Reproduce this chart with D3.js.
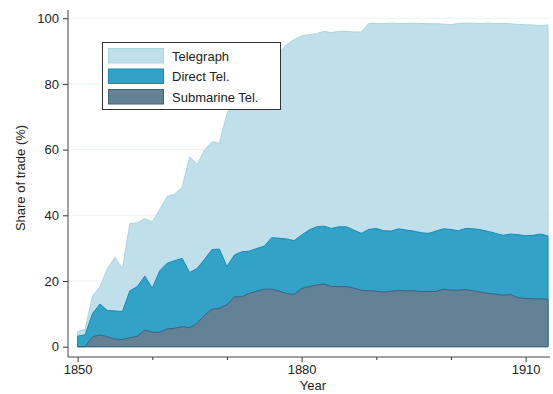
<!DOCTYPE html>
<html>
<head>
<meta charset="utf-8">
<script src="https://cdn.jsdelivr.net/npm/d3@7"></script>
<style>
  body { margin: 0; background: #fff; }
  svg { font-family: "Liberation Sans", Arial, sans-serif; }
</style>
</head>
<body>
<div id="chart"></div>
<script>
// years 1850..1913
var years = d3.range(1850, 1914);

// total telegraph share (%)
var telegraph = [4.6, 5.3, 15.4, 18.3, 23.8, 27.2, 23.8, 37.5, 37.7, 39.0,
  38.0, 41.8, 45.7, 46.5, 48.5, 57.8, 55.5, 59.9, 62.4, 61.9,
  71.0, 75.0, 79.0, 82.0, 85.0, 87.0, 88.0, 89.5, 92.0, 93.5,
  94.6, 95.0, 95.3, 96.0, 95.6, 96.0, 96.0, 95.8, 95.8, 98.4,
  98.4, 98.4, 98.5, 98.4, 98.4, 98.5, 98.4, 98.3, 98.3, 98.2,
  98.0, 98.4, 98.5, 98.5, 98.4, 98.5, 98.4, 98.4, 98.3, 98.1,
  98.0, 97.9, 97.8, 97.9];

// direct telegraph share (%)
var direct = [3.2, 3.6, 10.1, 13.0, 11.0, 10.9, 10.7, 17.0, 18.3, 21.5,
  17.8, 23.1, 25.4, 26.2, 26.9, 22.6, 23.8, 26.6, 29.6, 29.7,
  24.4, 27.9, 28.9, 29.1, 29.9, 30.6, 33.2, 33.0, 32.8, 32.3,
  34.0, 35.5, 36.5, 36.7, 36.0, 36.5, 36.5, 35.5, 34.5, 35.7,
  36.0, 35.3, 35.2, 35.9, 35.5, 35.2, 34.7, 34.5, 35.2, 35.9,
  35.7, 35.3, 36.0, 35.9, 35.6, 35.1, 34.5, 33.9, 34.3, 34.1,
  33.8, 33.9, 34.3, 33.7];

// submarine telegraph share (%)
var submarine = [0, 0, 3.0, 3.6, 3.0, 2.3, 2.2, 2.7, 3.2, 5.1,
  4.4, 4.4, 5.4, 5.6, 6.1, 5.8, 7.1, 9.6, 11.4, 11.7,
  12.8, 15.2, 15.2, 16.2, 16.9, 17.5, 17.5, 16.9, 16.2, 15.9,
  17.7, 18.3, 18.8, 19.1, 18.3, 18.3, 18.3, 17.8, 17.2, 17.0,
  16.9, 16.6, 16.9, 17.1, 17.0, 17.0, 16.8, 16.8, 16.8, 17.5,
  17.2, 17.2, 17.4, 17.0, 16.6, 16.2, 16.0, 15.7, 15.9, 14.9,
  14.7, 14.6, 14.5, 14.5];

var seriesNames = ["Telegraph", "Direct Tel.", "Submarine Tel."];
var seriesData = [telegraph, direct, submarine];
var fills = ["#bfe0ea", "#33a2c9", "#648296"];
var strokes = ["#a9d5e3", "#1a8ab5", "#3f627b"];

var xTicks = [1850, 1880, 1910];
var xMinor = [1860, 1870, 1890, 1900];
var yTicks = [0, 20, 40, 60, 80, 100];

var W = 553, H = 394;
var svg = d3.select("#chart").append("svg")
  .attr("width", W).attr("height", H);

var x = d3.scaleLinear().domain([1850, 1910]).range([77.6, 525.6]);
var y = d3.scaleLinear().domain([0, 100]).range([346.7, 18.2]);

var plotLeft = 68, plotRight = 550, plotTop = 10, plotBottom = 357;

// gridlines
svg.append("g").selectAll("line")
  .data(yTicks.slice(1))
  .enter().append("line")
  .attr("x1", plotLeft).attr("x2", plotRight)
  .attr("y1", function(d) { return y(d); })
  .attr("y2", function(d) { return y(d); })
  .attr("stroke", "#eaf2f4")
  .attr("stroke-width", 1);

// areas, each from zero, drawn back to front
seriesData.forEach(function(vals, i) {
  var pts = years.map(function(yr, j) { return {yr: yr, v: vals[j]}; });
  var area = d3.area()
    .x(function(d) { return x(d.yr); })
    .y0(y(0))
    .y1(function(d) { return y(d.v); });
  svg.append("path")
    .datum(pts)
    .attr("d", area)
    .attr("fill", fills[i])
    .attr("stroke", strokes[i])
    .attr("stroke-width", 1)
    .attr("stroke-linejoin", "round");
});

// axes
var yAxis = d3.axisLeft(y).tickValues(yTicks).tickSize(5).tickPadding(4);
var gy = svg.append("g")
  .attr("transform", "translate(" + plotLeft + ",0)")
  .call(yAxis);
gy.select(".domain").remove();
gy.selectAll("line").attr("stroke", "#333");
gy.selectAll("text").style("font-size", "13px").attr("fill", "#222");

var xAxis = d3.axisBottom(x).tickValues(xTicks).tickSize(5).tickPadding(3)
  .tickFormat(d3.format("d"));
var gx = svg.append("g")
  .attr("transform", "translate(0," + plotBottom + ")")
  .call(xAxis);
gx.select(".domain").remove();
gx.selectAll("line").attr("stroke", "#333");
gx.selectAll("text").style("font-size", "13px").attr("fill", "#222");

var gxm = svg.append("g")
  .attr("transform", "translate(0," + plotBottom + ")")
  .call(d3.axisBottom(x).tickValues(xMinor).tickSize(3).tickFormat(""));
gxm.select(".domain").remove();
gxm.selectAll("line").attr("stroke", "#333");

svg.append("line")
  .attr("x1", plotLeft).attr("x2", plotLeft)
  .attr("y1", plotTop).attr("y2", plotBottom)
  .attr("stroke", "#444").attr("stroke-width", 1);
svg.append("line")
  .attr("x1", plotLeft).attr("x2", plotRight)
  .attr("y1", plotBottom).attr("y2", plotBottom)
  .attr("stroke", "#444").attr("stroke-width", 1);

// axis titles
svg.append("text")
  .attr("x", 313).attr("y", 390)
  .attr("text-anchor", "middle")
  .style("font-size", "13px").attr("fill", "#222")
  .text("Year");
svg.append("text")
  .attr("transform", "translate(25,178) rotate(-90)")
  .attr("text-anchor", "middle")
  .style("font-size", "13px").attr("fill", "#222")
  .text("Share of trade (%)");

// legend
var leg = svg.append("g");
leg.append("rect")
  .attr("x", 102.5).attr("y", 42.5).attr("width", 178).attr("height", 67)
  .attr("fill", "#fff").attr("stroke", "#333").attr("stroke-width", 1);
seriesNames.forEach(function(name, i) {
  var ry = 48.5 + i * 20.5;
  leg.append("rect")
    .attr("x", 108.5).attr("y", ry).attr("width", 55).attr("height", 14.5)
    .attr("fill", fills[i]).attr("stroke", strokes[i]).attr("stroke-width", 1);
  leg.append("text")
    .attr("x", 172).attr("y", ry + 7.5).attr("dy", "0.35em")
    .style("font-size", "13px").attr("fill", "#222")
    .text(name);
});
</script>
</body>
</html>
